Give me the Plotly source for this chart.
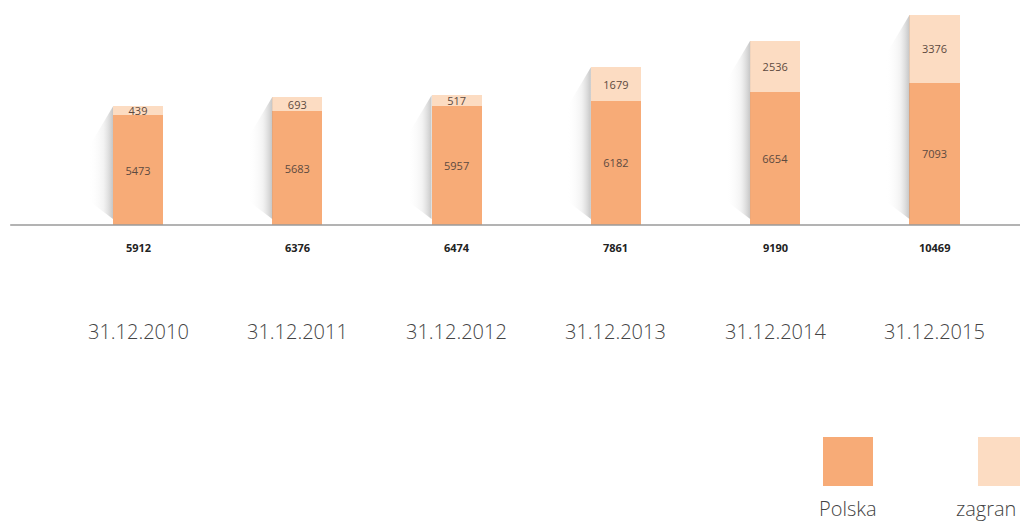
import plotly.graph_objects as go

dates = ["31.12.2010", "31.12.2011", "31.12.2012", "31.12.2013", "31.12.2014", "31.12.2015"]
polska = [5473, 5683, 5957, 6182, 6654, 7093]
zagran = [439, 693, 517, 1679, 2536, 3376]
series_names = ["Polska", "zagran"]
colors = ["#F7AB77", "#FCDCC2"]

totals = [p + z for p, z in zip(polska, zagran)]
xs = list(range(len(dates)))
bw = 0.314

fig = go.Figure()

# soft shadows left of bars
for x, t in zip(xs, totals):
    xl = x - bw / 2
    sx = [xl, xl - 0.15, xl - 0.15, xl, xl]
    sy = [t, t - 2000, 1200, 300, t]
    fig.add_trace(go.Scatter(
        x=sx, y=sy, mode="lines", fill="toself", line=dict(width=0),
        fillgradient=dict(type="horizontal",
                          colorscale=[[0, "rgba(255,255,255,0)"], [0.6, "rgba(215,215,215,0.3)"], [1, "rgba(140,140,140,0.5)"]]),
        hoverinfo="skip", showlegend=False))

fig.add_trace(go.Bar(x=xs, y=polska, width=bw, marker=dict(color=colors[0], line=dict(width=0)),
                     text=[str(v) for v in polska], textposition="inside", insidetextanchor="middle",
                     textfont=dict(size=11, color="#5c4a40", family="Open Sans"), name=series_names[0],
                     hoverinfo="skip", showlegend=False))
fig.add_trace(go.Bar(x=xs, y=zagran, width=bw, marker=dict(color=colors[1], line=dict(width=0)),
                     text=[str(v) for v in zagran], textposition="inside", insidetextanchor="middle",
                     textfont=dict(size=11, color="#5c4a40", family="Open Sans"), name=series_names[1],
                     hoverinfo="skip", showlegend=False))

# axis line
fig.add_shape(type="line", xref="paper", yref="y", x0=0.01, x1=1, y0=0, y1=0,
              line=dict(color="#9a9a9a", width=1.5))

# totals and dates
for x, t, d in zip(xs, totals, dates):
    fig.add_annotation(x=x, y=-1100, text=f"<b>{t}</b>", showarrow=False,
                       font=dict(size=11, color="#222222", family="Open Sans"))
    fig.add_annotation(x=x, y=-5300, text=d, showarrow=False,
                       font=dict(size=20, color="#444444", family="Open Sans", weight=300))

# custom legend
sq_cx = [848, 1003]
txt_x = [848, 1018]
txt_anchor = ["center", "right"]
for cx, tx, anc, name, c in zip(sq_cx, txt_x, txt_anchor, series_names, colors):
    fig.add_shape(type="rect", xref="paper", yref="paper",
                  x0=(cx - 25) / 1020, x1=(cx + 25) / 1020, y0=1 - 486 / 522, y1=1 - 437 / 522,
                  fillcolor=c, line=dict(width=0))
    fig.add_annotation(xref="paper", yref="paper", x=tx / 1020, y=1 - 508 / 522,
                       text=name, showarrow=False, xanchor=anc, yanchor="middle",
                       font=dict(size=20, color="#444444", family="Open Sans", weight=300))

px_per_unit = 210 / 10469
fig.update_layout(
    width=1020, height=522, margin=dict(l=0, r=0, t=0, b=0),
    paper_bgcolor="white", plot_bgcolor="white", barmode="stack",
    uniformtext=dict(minsize=11, mode="show"),
    xaxis=dict(range=[-138 / 159.3, (1020 - 138) / 159.3], visible=False, fixedrange=True),
    yaxis=dict(range=[-(522 - 225) / px_per_unit, 225 / px_per_unit], visible=False, fixedrange=True),
    showlegend=False,
)

fig.write_html("out.html", config={"displayModeBar": False},
               post_script="document.body.style.margin='0';document.body.style.overflow='hidden';")
